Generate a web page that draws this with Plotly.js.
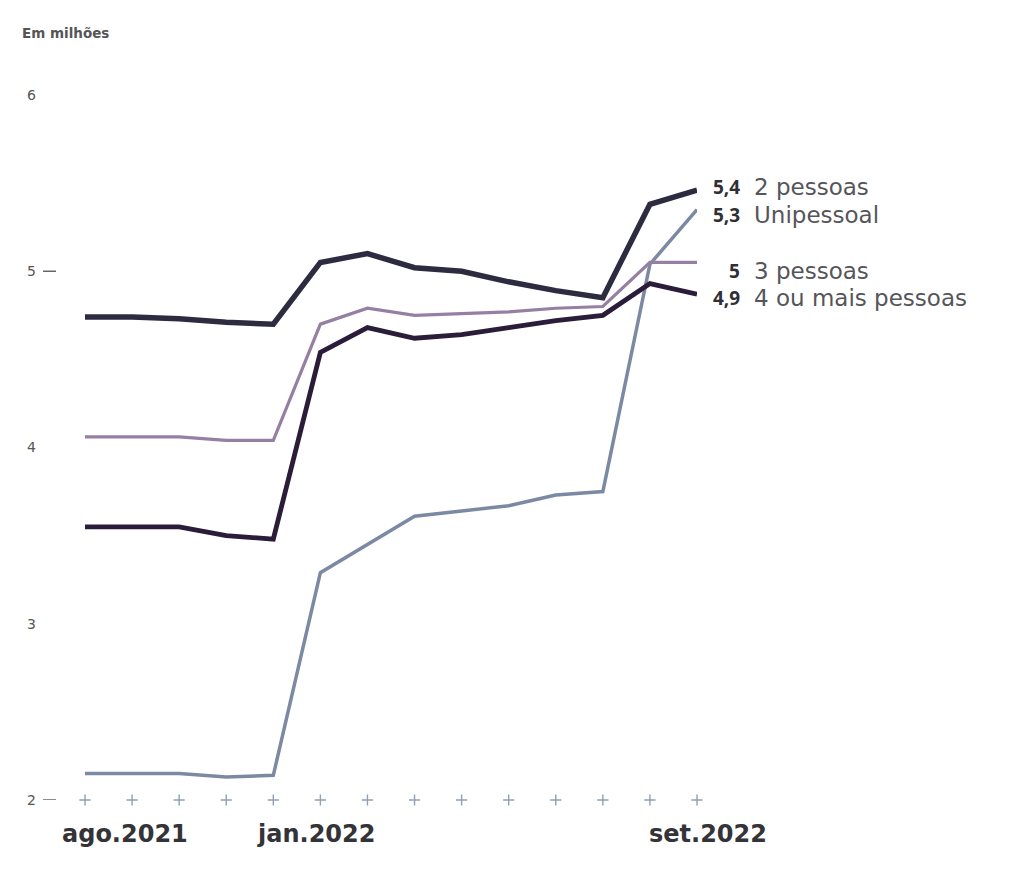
<!DOCTYPE html>
<html>
<head>
<meta charset="utf-8">
<script src="https://cdn.plot.ly/plotly-3.0.1.min.js"></script>
<style>
  html, body { margin: 0; padding: 0; background: #ffffff; }
  #chart { width: 1025px; height: 881px; }
</style>
</head>
<body>
<div id="chart"></div>
<script>
// ---- data ----
const months = ["ago.2021","set.2021","out.2021","nov.2021","dez.2021","jan.2022","fev.2022",
                "mar.2022","abr.2022","mai.2022","jun.2022","jul.2022","ago.2022","set.2022"];
const doisPessoas   = [4.74, 4.74, 4.73, 4.71, 4.70, 5.05, 5.10, 5.02, 5.00, 4.94, 4.89, 4.85, 5.38, 5.46];
const unipessoal    = [2.15, 2.15, 2.15, 2.13, 2.14, 3.29, 3.45, 3.61, 3.64, 3.67, 3.73, 3.75, 5.04, 5.35];
const tresPessoas   = [4.06, 4.06, 4.06, 4.04, 4.04, 4.70, 4.79, 4.75, 4.76, 4.77, 4.79, 4.80, 5.05, 5.05];
const quatroOuMais  = [3.55, 3.55, 3.55, 3.50, 3.48, 4.54, 4.68, 4.62, 4.64, 4.68, 4.72, 4.75, 4.93, 4.87];

const seriesNames = ["2 pessoas", "Unipessoal", "3 pessoas", "4 ou mais pessoas"];
const endValues   = ["5,4", "5,3", "5", "4,9"];
const yTickVals   = [2, 3, 4, 5, 6];
const yTickText   = ["2", "3", "4", "5", "6"];
const xLabelMonths = ["ago.2021", "jan.2022", "set.2022"];

// ---- styles ----
const FONT = "Open Sans, Noto Sans, sans-serif";
const WIDE = "DejaVu Sans, Verdana, sans-serif";
const colors = {
  dois: "#2c2b40",
  uni: "#7b8aa2",
  tres: "#957fa2",
  quatro: "#2b1c3a"
};

const traces = [
  {x: months, y: unipessoal, name: seriesNames[1], mode: "lines",
   line: {color: colors.uni, width: 3.5}, cliponaxis: false},
  {x: months, y: tresPessoas, name: seriesNames[2], mode: "lines",
   line: {color: colors.tres, width: 3.2}, cliponaxis: false},
  {x: months, y: quatroOuMais, name: seriesNames[3], mode: "lines",
   line: {color: colors.quatro, width: 4.8}, cliponaxis: false},
  {x: months, y: doisPessoas, name: seriesNames[0], mode: "lines",
   line: {color: colors.dois, width: 5.5}, cliponaxis: false},
  // tick marks along the baseline
  {x: months, y: months.map(() => 2), mode: "markers", hoverinfo: "skip",
   marker: {symbol: "cross-thin", size: 8, line: {color: "#8fa0b4", width: 1.4}},
   cliponaxis: false}
];

// label positions (layout, in axis units) to avoid overlaps
const labelY = [5.48, 5.32, 5.0, 4.85];
const lastX = months[months.length - 1];

const annotations = [];
for (let i = 0; i < seriesNames.length; i++) {
  annotations.push({x: lastX, y: labelY[i], xref: "x", yref: "y", text: "<b>" + endValues[i] + "</b>",
    showarrow: false, xanchor: "right", yanchor: "middle", xshift: 45,
    font: {family: FONT, size: 19, color: "#2f2f35"}});
  annotations.push({x: lastX, y: labelY[i], xref: "x", yref: "y", text: seriesNames[i],
    showarrow: false, xanchor: "left", yanchor: "middle", xshift: 55,
    font: {family: WIDE, size: 23, color: "#55555a"}});
}
// x labels
const xShift = [40, -4, 11];
xLabelMonths.forEach((m, i) => {
  annotations.push({x: m, y: 0, xref: "x", yref: "paper", text: "<b>" + m + "</b>",
    showarrow: false, xanchor: "center", yanchor: "top", yshift: -18, xshift: xShift[i],
    font: {family: WIDE, size: 24, color: "#333338"}});
});
// unit label
annotations.push({x: (20 - 85) / 612, y: 1 + (95 - 33) / 705, xref: "paper", yref: "paper",
  text: "<b>Em milhões</b>", showarrow: false, xanchor: "left", yanchor: "middle",
  font: {family: WIDE, size: 13.5, color: "#555"}});

const layout = {
  width: 1025, height: 881,
  margin: {l: 85, r: 328, t: 95, b: 81},
  paper_bgcolor: "#ffffff", plot_bgcolor: "#ffffff",
  showlegend: false,
  xaxis: {type: "category", range: [0, 13], showgrid: false, zeroline: false,
          showline: false, showticklabels: false, ticks: "", fixedrange: true},
  yaxis: {range: [2, 6], tickvals: yTickVals, ticktext: yTickText, showgrid: false,
          zeroline: false, showline: false, ticks: "", ticklabelstandoff: 48,
          tickfont: {family: WIDE, size: 14, color: "#555"}, fixedrange: true},
  shapes: [5, 2].map(v => ({type: "line", xref: "paper", yref: "y",
          x0: (43 - 85) / 612, x1: (56 - 85) / 612, y0: v, y1: v,
          line: {color: "#666", width: 1.5}})),
  annotations: annotations
};

Plotly.newPlot("chart", traces, layout, {displayModeBar: false, staticPlot: true});
</script>
</body>
</html>
